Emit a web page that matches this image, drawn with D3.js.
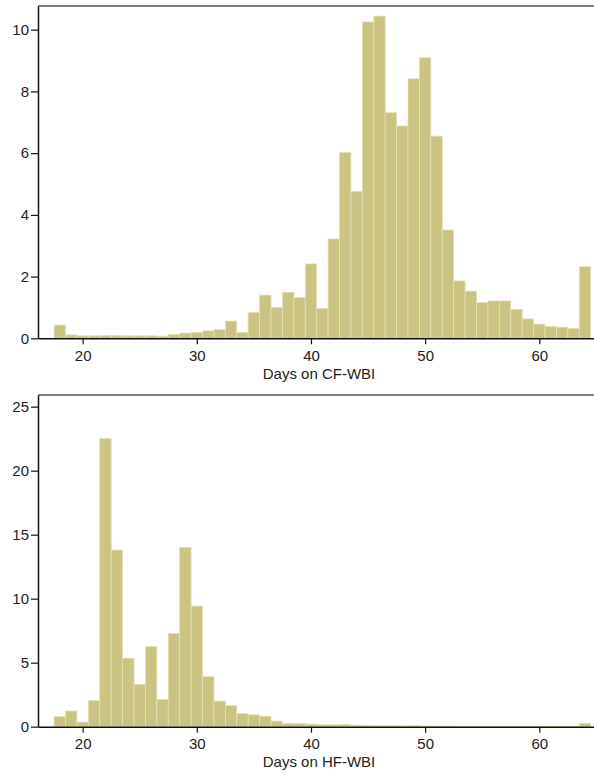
<!DOCTYPE html>
<html>
<head>
<meta charset="utf-8">
<script src="https://cdn.jsdelivr.net/npm/d3@7"></script>
<style>
  html, body { margin: 0; padding: 0; background: #ffffff; }
  svg { display: block; }
  .tick text { font-family: "Liberation Sans", Arial, sans-serif; font-size: 15px; fill: #222; }
</style>
</head>
<body>
<svg id="chart" width="594" height="775"></svg>
<script>
// Days (discrete bins, one bar per day)
const days = [18,19,20,21,22,23,24,25,26,27,28,29,30,31,32,33,34,35,36,37,38,39,40,41,42,43,44,45,46,47,48,49,50,51,52,53,54,55,56,57,58,59,60,61,62,63,64];

// Percent of observations, Days on CF-WBI
const cfValues = [0.43,0.11,0.08,0.08,0.09,0.09,0.08,0.08,0.08,0.07,0.13,0.17,0.19,0.24,0.28,0.56,0.19,0.84,1.40,1.00,1.49,1.32,2.41,0.97,3.22,6.02,4.76,10.25,10.44,7.31,6.88,8.41,9.09,6.55,3.51,1.86,1.53,1.16,1.21,1.21,0.94,0.63,0.46,0.38,0.36,0.32,2.32];

// Percent of observations, Days on HF-WBI
const hfValues = [0.78,1.22,0.36,2.03,22.5,13.8,5.35,3.3,6.25,2.12,7.28,14.0,9.42,3.9,2.0,1.65,1.02,0.93,0.82,0.44,0.26,0.25,0.2,0.15,0.15,0.18,0.12,0.1,0.08,0.08,0.06,0.08,0.05,0.04,0.04,0.03,0.03,0.03,0.03,0.03,0.02,0.02,0.02,0.02,0.02,0.02,0.26];

const xTicks = [20,30,40,50,60];
const cfYTicks = [0,2,4,6,8,10];
const hfYTicks = [0,5,10,15,20,25];
const cfTitle = "Days on CF-WBI";
const hfTitle = "Days on HF-WBI";

const svg = d3.select("#chart");
const FILL = "#cac381";
const EDGE = "#e4e0b4";

const x = d3.scaleLinear().domain([16.09, 64.79]).range([38, 594]);

function panel(values, yTicks, yMax, top, bottom, title, titleY) {
  const y = d3.scaleLinear().domain([0, yMax]).range([bottom, top]);
  const g = svg.append("g");

  // bars
  g.selectAll("rect.bar").data(days).enter().append("rect")
    .attr("class", "bar")
    .attr("x", d => x(d - 0.5))
    .attr("width", d => x(d + 0.5) - x(d - 0.5))
    .attr("y", (d, i) => y(values[i]))
    .attr("height", (d, i) => y(0) - y(values[i]))
    .attr("fill", FILL)
    .attr("stroke", EDGE)
    .attr("stroke-width", 0.8);

  // top border of plot region
  g.append("line")
    .attr("x1", x.range()[0]).attr("x2", x.range()[1])
    .attr("y1", top).attr("y2", top)
    .attr("stroke", "#555").attr("stroke-width", 1.5);

  // y axis
  const ya = g.append("g").attr("transform", `translate(${x.range()[0]},0)`)
    .call(d3.axisLeft(y).tickValues(yTicks).tickSize(7).tickPadding(2).tickSizeOuter(0));
  ya.select(".domain").attr("stroke", "#111").attr("stroke-width", 1.5);
  ya.selectAll(".tick line").attr("stroke", "#111").attr("stroke-width", 1.2);

  // x axis
  const xa = g.append("g").attr("transform", `translate(0,${bottom})`)
    .call(d3.axisBottom(x).tickValues(xTicks).tickSize(6).tickPadding(6).tickSizeOuter(0));
  xa.select(".domain").attr("stroke", "#111").attr("stroke-width", 1.5);
  xa.selectAll(".tick line").attr("stroke", "#111").attr("stroke-width", 1.2);

  g.append("text")
    .attr("x", 319).attr("y", titleY)
    .attr("text-anchor", "middle")
    .style("font-family", '"Liberation Sans", Arial, sans-serif')
    .style("font-size", "15px")
    .attr("fill", "#222")
    .text(title);
}

panel(cfValues, cfYTicks, 10.767, 6, 338.33, cfTitle, 378.5);
panel(hfValues, hfYTicks, 25.91, 395, 726.67, hfTitle, 767);
</script>
</body>
</html>
